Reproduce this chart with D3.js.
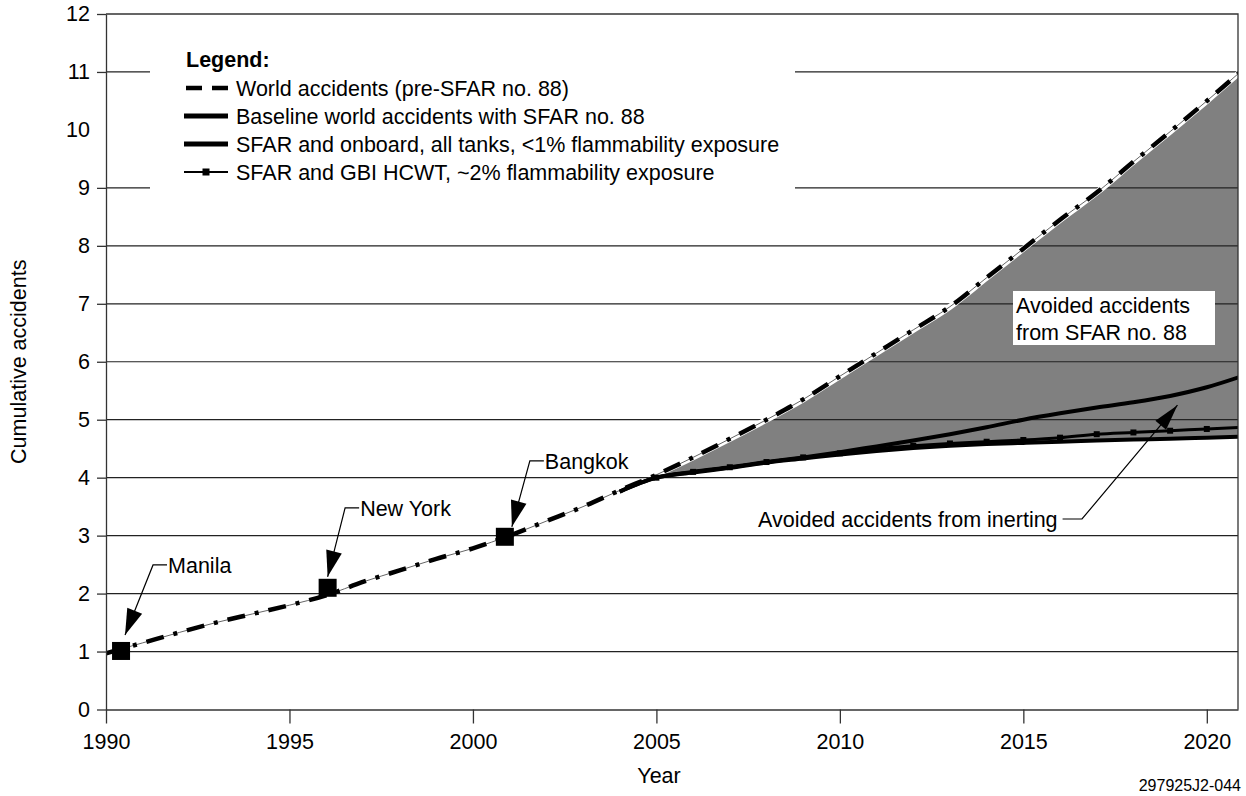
<!DOCTYPE html>
<html>
<head>
<meta charset="utf-8">
<script src="https://cdn.jsdelivr.net/npm/d3@7"></script>
<style>
  html, body { margin: 0; padding: 0; background: #fff; }
  svg { display: block; font-family: "Liberation Sans", Arial, Helvetica, sans-serif; }
</style>
</head>
<body>
<svg id="chart" width="1246" height="796"></svg>
<script>
// Cumulative world accidents, 1990-2021
const years = d3.range(1990, 2022);
const preSfar = [0.97, 1.15, 1.33, 1.50, 1.65, 1.80, 1.97, 2.20, 2.40, 2.60, 2.78, 3.00,
                 3.25, 3.50, 3.78, 4.05, 4.35, 4.67, 5.00, 5.35, 5.75, 6.15, 6.55, 6.95,
                 7.45, 7.95, 8.45, 8.92, 9.45, 9.97, 10.50, 11.05];

// Projections once SFAR no. 88 is in force
const sfarYears = d3.range(2004, 2022);
const baselineSfar = [3.76, 4.00, 4.10, 4.18, 4.27, 4.35, 4.44, 4.54, 4.64, 4.75, 4.87, 5.00,
                      5.11, 5.21, 5.30, 5.41, 5.56, 5.76];
const gbiHcwt = [3.76, 4.00, 4.10, 4.18, 4.27, 4.35, 4.42, 4.50, 4.55, 4.59, 4.62, 4.65,
                 4.69, 4.75, 4.78, 4.81, 4.84, 4.87];
const onboardInert = [3.76, 4.00, 4.09, 4.17, 4.26, 4.33, 4.40, 4.46, 4.51, 4.55, 4.58, 4.60,
                      4.62, 4.64, 4.66, 4.67, 4.69, 4.71];

// Fuel tank explosion events
const eventNames = ["Manila", "New York", "Bangkok"];
const eventYears = [1990.41, 1996.04, 2000.87];
const eventValues = [1.01, 2.10, 2.98];

const xTicks = [1990, 1995, 2000, 2005, 2010, 2015, 2020];
const yTicks = d3.range(0, 13);
const gridValues = [1, 2, 3, 4, 5, 6, 7, 8, 9, 11];

const legendLabels = [
  "World accidents (pre-SFAR no. 88)",
  "Baseline world accidents with SFAR no. 88",
  "SFAR and onboard, all tanks, <1% flammability exposure",
  "SFAR and GBI HCWT, ~2% flammability exposure"
];

const svg = d3.select("#chart");
const x = d3.scaleLinear().domain([1990, 2020.85]).range([106, 1238]);
const y = d3.scaleLinear().domain([0, 12]).range([709.5, 14]);
const FS = 21.5;

svg.append("defs").append("clipPath").attr("id", "plotClip")
  .append("rect").attr("x", x(1990)).attr("y", y(12))
  .attr("width", x(2020.85) - x(1990)).attr("height", y(0) - y(12));

const plot = svg.append("g").attr("clip-path", "url(#plotClip)");

// Avoided-accident band
const prePts = years.map((yr, i) => [yr, preSfar[i]]);
const fillData = sfarYears.filter(yr => yr >= 2005).map(yr => ({
  yr,
  hi: preSfar[years.indexOf(yr)],
  lo: onboardInert[sfarYears.indexOf(yr)]
}));
plot.append("path")
  .datum(fillData)
  .attr("fill", "#808080")
  .attr("d", d3.area().curve(d3.curveMonotoneX)
    .x(d => x(d.yr)).y0(d => y(d.lo)).y1(d => y(d.hi)));

// Horizontal grid
plot.selectAll("line.grid").data(gridValues).join("line")
  .attr("class", "grid")
  .attr("x1", x(1990)).attr("x2", x(2020.85))
  .attr("y1", d => y(d)).attr("y2", d => y(d))
  .attr("stroke", "#222").attr("stroke-width", 1.2);

const line = d3.line().curve(d3.curveMonotoneX).x(d => x(d[0])).y(d => y(d[1]));

// Pre-SFAR world accidents (dash-dot with thin trace)
plot.append("path").datum(prePts.filter(d => d[0] >= 2005))
  .attr("fill", "none").attr("stroke", "#fff").attr("stroke-width", 6).attr("d", line);
plot.append("path").datum(prePts)
  .attr("fill", "none").attr("stroke", "#666").attr("stroke-width", 1).attr("d", line);
plot.append("path").datum(prePts)
  .attr("fill", "none").attr("stroke", "#000").attr("stroke-width", 4.5)
  .attr("stroke-dasharray", "18,10,4,10").attr("d", line);

// SFAR projections
const basePts = sfarYears.map((yr, i) => [yr, baselineSfar[i]]);
const gbiPts = sfarYears.map((yr, i) => [yr, gbiHcwt[i]]);
const onboardPts = sfarYears.map((yr, i) => [yr, onboardInert[i]]);

plot.append("path").datum(onboardPts)
  .attr("fill", "none").attr("stroke", "#000").attr("stroke-width", 4).attr("d", line);
plot.append("path").datum(gbiPts)
  .attr("fill", "none").attr("stroke", "#000").attr("stroke-width", 3).attr("d", line);
plot.selectAll("rect.gbi").data(gbiPts.filter(d => d[0] >= 2005)).join("rect")
  .attr("class", "gbi")
  .attr("x", d => x(d[0]) - 3).attr("y", d => y(d[1]) - 3)
  .attr("width", 6).attr("height", 6).attr("fill", "#000");
plot.append("path").datum(basePts)
  .attr("fill", "none").attr("stroke", "#000").attr("stroke-width", 4).attr("d", line);

// Axes
const yAxis = svg.append("g")
  .attr("transform", `translate(${x(1990)},0)`)
  .call(d3.axisLeft(y).tickValues(yTicks).tickSize(9).tickSizeOuter(0).tickPadding(7)
    .tickFormat(d3.format("d")));
yAxis.selectAll(".tick").filter(d => d === 10).select("line").remove();
const xAxis = svg.append("g")
  .attr("transform", `translate(0,${y(0)})`)
  .call(d3.axisBottom(x).tickValues(xTicks).tickSize(14).tickSizeOuter(0).tickPadding(10)
    .tickFormat(d3.format("d")));
[xAxis, yAxis].forEach(g => {
  g.select(".domain").attr("stroke", "#333").attr("stroke-width", 1.3);
  g.selectAll(".tick line").attr("stroke", "#333").attr("stroke-width", 1.3);
  g.selectAll(".tick text").attr("font-size", FS).attr("fill", "#000")
    .attr("font-family", "Liberation Sans, Arial, sans-serif");
});

// Plot frame (top and right)
svg.append("path")
  .attr("d", `M${x(1990)},${y(12)}H${x(2020.85)}V${y(0)}`)
  .attr("fill", "none").attr("stroke", "#333").attr("stroke-width", 1.3);

// Axis titles
svg.append("text")
  .attr("transform", `translate(26,${(y(0) + y(12)) / 2}) rotate(-90)`)
  .attr("text-anchor", "middle").attr("font-size", FS)
  .text("Cumulative accidents");
svg.append("text")
  .attr("x", 659).attr("y", 783).attr("text-anchor", "middle").attr("font-size", FS)
  .text("Year");
svg.append("text")
  .attr("x", 1241).attr("y", 791).attr("text-anchor", "end").attr("font-size", 16)
  .text("297925J2-044");

// Arrowhead helper: filled triangle pointing from (x0,y0) to (x1,y1)
function arrowHead(g, x0, y0, x1, y1, len, half) {
  const a = Math.atan2(y1 - y0, x1 - x0);
  const bx = x1 - len * Math.cos(a), by = y1 - len * Math.sin(a);
  const px = -Math.sin(a) * half, py = Math.cos(a) * half;
  g.append("path")
    .attr("d", `M${x1},${y1}L${bx + px},${by + py}L${bx - px},${by - py}Z`)
    .attr("fill", "#000");
}

// Event markers and callouts
const calloutBend = [[32, -86], [17.5, -80], [25, -76]];
const calloutTip = [[4, -16], [0, -11], [7, -10]];
const events = svg.append("g");
eventNames.forEach((name, i) => {
  const cx = x(eventYears[i]), cy = y(eventValues[i]);
  const bx = cx + calloutBend[i][0], by = cy + calloutBend[i][1];
  const tx = cx + calloutTip[i][0], ty = cy + calloutTip[i][1];
  events.append("path")
    .attr("d", `M${bx + 14},${by}H${bx}L${tx},${ty}`)
    .attr("fill", "none").attr("stroke", "#000").attr("stroke-width", 1.2);
  arrowHead(events, bx, by, tx, ty, 26, 8);
  events.append("text").attr("x", bx + 15).attr("y", by + 8)
    .attr("font-size", FS).text(name);
});
events.selectAll("rect.event").data(eventYears).join("rect")
  .attr("class", "event")
  .attr("x", (d, i) => x(d) - 9).attr("y", (d, i) => y(eventValues[i]) - 9)
  .attr("width", 18).attr("height", 18).attr("fill", "#000");

// Band labels
const sfarBox = svg.append("g");
sfarBox.append("rect").attr("x", 1013).attr("y", 291).attr("width", 202).attr("height", 54)
  .attr("fill", "#fff");
sfarBox.append("text").attr("x", 1016).attr("y", 313).attr("font-size", FS).text("Avoided accidents");
sfarBox.append("text").attr("x", 1016).attr("y", 340).attr("font-size", FS).text("from SFAR no. 88");

const inertTip = [2019.2, 5.25];
const inert = svg.append("g");
const inertText = inert.append("text").attr("x", 758).attr("y", 527).attr("font-size", FS)
  .text("Avoided accidents from inerting");
const inertEnd = 758 + inertText.node().getComputedTextLength();
inert.append("path")
  .attr("d", `M${inertEnd + 5},519H1082L${x(inertTip[0])},${y(inertTip[1])}`)
  .attr("fill", "none").attr("stroke", "#000").attr("stroke-width", 1.2);
arrowHead(inert, 1082, 519, x(inertTip[0]), y(inertTip[1]), 26, 7);

// Legend
const legend = svg.append("g");
legend.append("rect").attr("x", 150).attr("y", 38).attr("width", 645).attr("height", 160)
  .attr("fill", "#fff");
legend.append("text").attr("x", 186).attr("y", 67).attr("font-size", FS)
  .attr("font-weight", "bold").text("Legend:");
const rowY = [88, 116, 144, 172];
legendLabels.forEach((lab, i) => {
  const ly = rowY[i];
  if (i === 0) {
    legend.append("line").attr("x1", 186).attr("x2", 228).attr("y1", ly).attr("y2", ly)
      .attr("stroke", "#000").attr("stroke-width", 4.5).attr("stroke-dasharray", "16,10");
  } else if (i === 3) {
    legend.append("line").attr("x1", 184).attr("x2", 228).attr("y1", ly).attr("y2", ly)
      .attr("stroke", "#000").attr("stroke-width", 2);
    legend.append("rect").attr("x", 202.5).attr("y", ly - 3.5).attr("width", 7).attr("height", 7)
      .attr("fill", "#000");
  } else {
    legend.append("line").attr("x1", 184).attr("x2", 228).attr("y1", ly).attr("y2", ly)
      .attr("stroke", "#000").attr("stroke-width", 5);
  }
  legend.append("text").attr("x", 236).attr("y", ly + 7.5).attr("font-size", FS).text(lab);
});
</script>
</body>
</html>
